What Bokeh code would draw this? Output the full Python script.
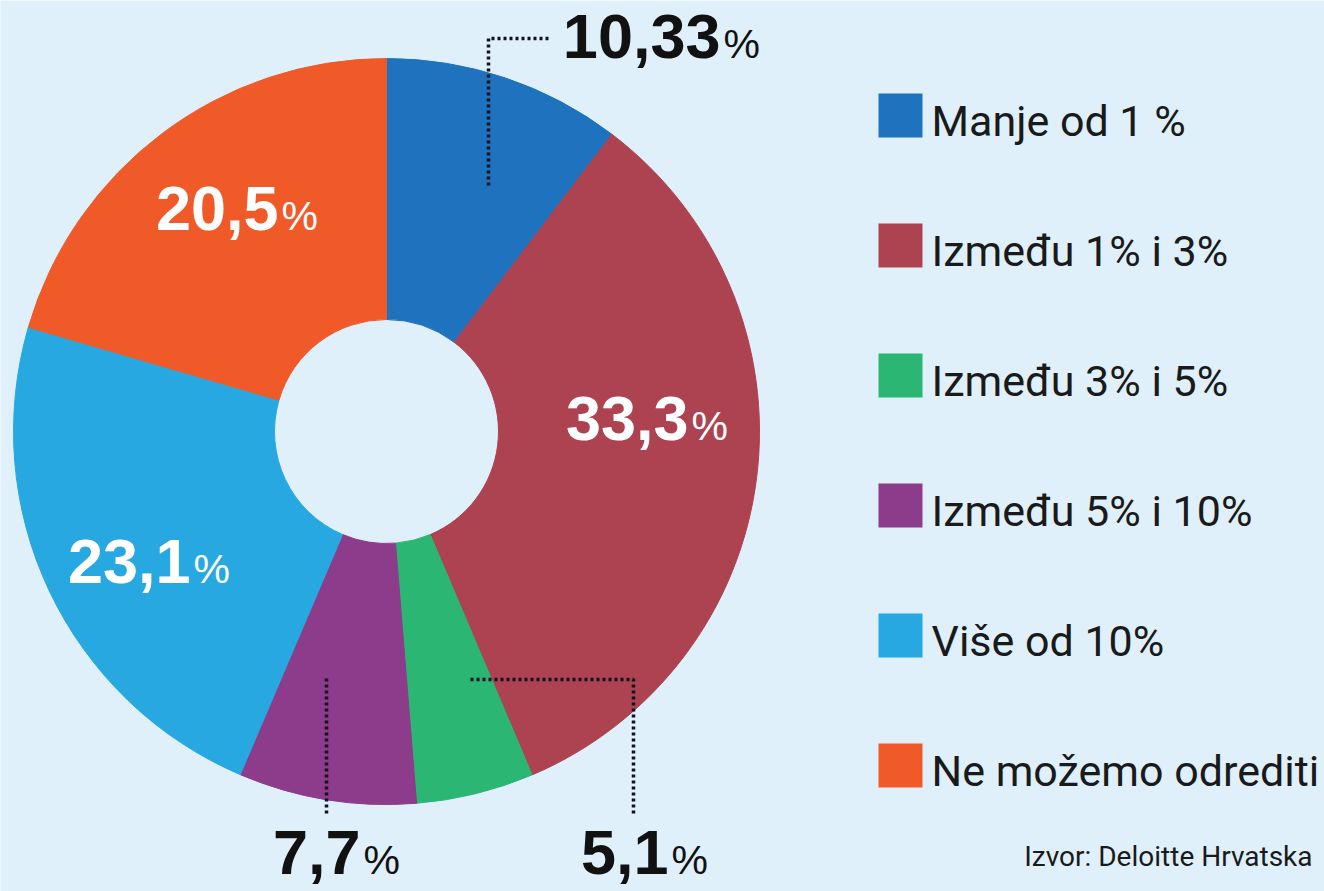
import math
from bokeh.plotting import figure
from bokeh.models import Range1d, ColumnDataSource
from bokeh.core.properties import value
from bokeh.embed import file_html
from bokeh.resources import INLINE

# ---------------- data ----------------
categories = ["Manje od 1 %", "Između 1% i 3%", "Između 3% i 5%",
              "Između 5% i 10%", "Više od 10%", "Ne možemo odrediti"]
shares = [10.33, 33.3, 5.1, 7.7, 23.1, 20.5]
colors = ["#1f72bd", "#ad4250", "#2bb673", "#8d3b8b", "#27a8e0", "#f05a28"]
source_note = "Izvor: Deloitte Hrvatska"

# ---------------- layout ----------------
W, H = 1324, 891
BG = "#dff0fb"
NUM_FONT = value("Liberation Sans")
LEG_FONT = value("Roboto")
NUM_SIZE, PCT_SIZE, LEG_SIZE, SRC_SIZE = 63, 41, 43, 28

def Y(py):
    return H - py

def base(py, size):
    # baseline position (pixel) -> data y, compensating renderer offset
    return Y(py) + 0.355 * size

p = figure(width=W, height=H, x_range=Range1d(0, W), y_range=Range1d(0, H),
           title=None, x_axis_type=None, y_axis_type=None,
           output_backend="svg", toolbar_location=None, min_border=0,
           background_fill_color=BG, border_fill_color=BG, outline_line_color=None)
p.grid.visible = False

# donut
cx, cy = 386, Y(431)
total = sum(shares)
starts, ends = [], []
cum = 0.0
for s in shares:
    starts.append(math.pi / 2 - 2 * math.pi * cum / total)
    cum += s
    ends.append(math.pi / 2 - 2 * math.pi * cum / total)
src = ColumnDataSource(dict(start=starts, end=ends, color=colors,
                            x=[cx] * len(shares), y=[cy] * len(shares)))
p.annular_wedge(x="x", y="y", inner_radius=112, outer_radius=373,
                start_angle="start", end_angle="end", direction="clock",
                fill_color="color", line_color="color", line_width=1, source=src)

# leader lines (dotted)
p.multi_line(xs=[[488, 488, 551], [470, 633, 633], [326, 326]],
             ys=[[Y(185), Y(38), Y(38)], [Y(679), Y(679), Y(815)], [Y(678), Y(815)]],
             line_color="#111122", line_width=3.5, line_dash="3 3")

# value labels: number end x, baseline y (pixel), colour
label_pos = [(720, 58), (688, 440), (668, 874), (360, 874), (190, 583), (278, 230)]
label_col = ["#111111", "#ffffff", "#111111", "#111111", "#ffffff", "#ffffff"]
nums = [str(v).replace(".", ",") for v in shares]
p.text(x=[a for a, b in label_pos], y=[base(b, NUM_SIZE) for a, b in label_pos], text=nums,
       text_color=label_col, text_font=NUM_FONT, text_font_size=f"{NUM_SIZE}px",
       text_font_style="bold", text_align="right", text_baseline="alphabetic")
p.text(x=[a + 3 for a, b in label_pos], y=[base(b, PCT_SIZE) for a, b in label_pos],
       text=["%"] * len(nums), text_color=label_col, text_font=NUM_FONT,
       text_font_size=f"{PCT_SIZE}px", text_align="left", text_baseline="alphabetic")

# legend
rows = [115 + 130 * i for i in range(len(categories))]
p.rect(x=[900] * len(categories), y=[Y(r) for r in rows], width=44, height=44,
       fill_color=colors, line_color=None)
p.text(x=[931] * len(categories), y=[base(r + 21, LEG_SIZE) for r in rows], text=categories,
       text_color="#1a1a1a", text_font=LEG_FONT, text_font_size=f"{LEG_SIZE}px",
       text_align="left", text_baseline="alphabetic")

# source
p.text(x=[1312], y=[base(866, SRC_SIZE)], text=[source_note], text_color="#1a1a1a",
       text_font=LEG_FONT, text_font_size=f"{SRC_SIZE}px", text_align="right",
       text_baseline="alphabetic")

open("out.html", "w").write(file_html(p, INLINE))
